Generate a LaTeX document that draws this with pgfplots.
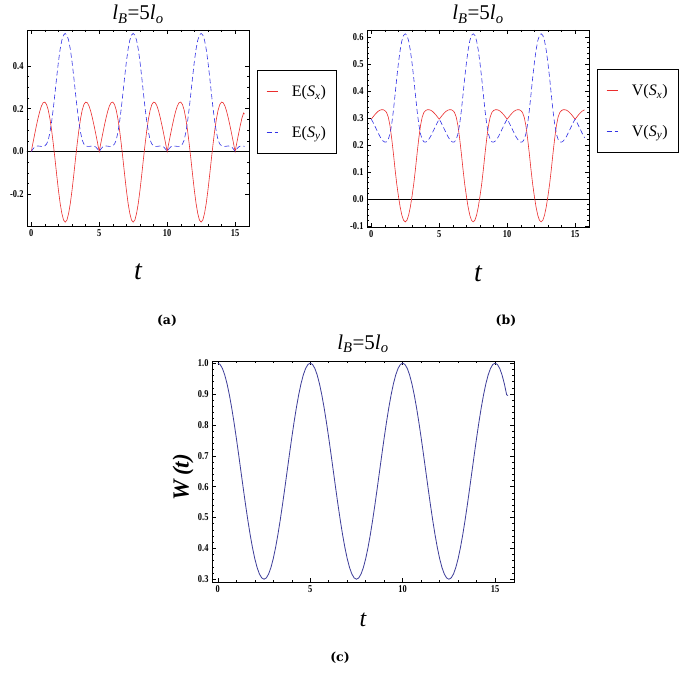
\documentclass[border=0pt]{standalone}
\usepackage{fontspec}
\setmainfont{Liberation Serif}
\newfontfamily\tickfont[FakeStretch=0.8]{Liberation Serif}
\newfontfamily\capfont{DejaVu Serif}
\usepackage{pgfplots}
\usepackage{pgfplotstable}
\pgfplotsset{compat=1.18}

\definecolor{mred}{RGB}{235,45,45}
\definecolor{mblue}{RGB}{50,50,230}
\definecolor{mnavy}{rgb}{0.24,0.24,0.6}

% t, E(Sx), E(Sy), V(Sx), V(Sy), W(t)
\pgfplotstableread{
t Ex Ey Vx Vy W
0 0 0 0.295 0.295 1.0
0.125 0.041 0.012 0.303 0.284 0.9957
0.25 0.081 0.021 0.311 0.271 0.9829
0.375 0.120 0.025 0.318 0.258 0.9619
0.5 0.156 0.026 0.324 0.245 0.9332
0.625 0.188 0.025 0.328 0.232 0.8975
0.75 0.213 0.024 0.330 0.222 0.8557
0.875 0.228 0.024 0.330 0.214 0.8089
1 0.231 0.027 0.327 0.210 0.7582
1.125 0.220 0.035 0.320 0.211 0.7048
1.25 0.194 0.053 0.303 0.220 0.65
1.375 0.153 0.090 0.272 0.240 0.5952
1.5 0.099 0.140 0.225 0.275 0.5418
1.625 0.034 0.203 0.170 0.325 0.4911
1.75 -0.037 0.275 0.110 0.385 0.4443
1.875 -0.111 0.350 0.055 0.447 0.4025
2 -0.181 0.420 0.010 0.503 0.3668
2.125 -0.242 0.478 -0.030 0.550 0.3381
2.25 -0.289 0.520 -0.060 0.585 0.3171
2.375 -0.320 0.544 -0.079 0.605 0.3043
2.5 -0.330 0.552 -0.085 0.611 0.30
2.625 -0.320 0.544 -0.079 0.605 0.3043
2.75 -0.289 0.520 -0.060 0.585 0.3171
2.875 -0.242 0.478 -0.030 0.550 0.3381
3 -0.181 0.420 0.010 0.503 0.3668
3.125 -0.111 0.350 0.055 0.447 0.4025
3.25 -0.037 0.275 0.110 0.385 0.4443
3.375 0.034 0.203 0.170 0.325 0.4911
3.5 0.099 0.140 0.225 0.275 0.5418
3.625 0.153 0.090 0.272 0.240 0.5952
3.75 0.194 0.053 0.303 0.220 0.65
3.875 0.220 0.035 0.320 0.211 0.7048
4 0.231 0.027 0.327 0.210 0.7582
4.125 0.228 0.024 0.330 0.214 0.8089
4.25 0.213 0.024 0.330 0.222 0.8557
4.375 0.188 0.025 0.328 0.232 0.8975
4.5 0.156 0.026 0.324 0.245 0.9332
4.625 0.120 0.025 0.318 0.258 0.9619
4.75 0.081 0.021 0.311 0.271 0.9829
4.875 0.041 0.012 0.303 0.284 0.9957
5 0 0 0.295 0.295 1.0
5.125 0.041 0.012 0.303 0.284 0.9957
5.25 0.081 0.021 0.311 0.271 0.9829
5.375 0.120 0.025 0.318 0.258 0.9619
5.5 0.156 0.026 0.324 0.245 0.9332
5.625 0.188 0.025 0.328 0.232 0.8975
5.75 0.213 0.024 0.330 0.222 0.8557
5.875 0.228 0.024 0.330 0.214 0.8089
6 0.231 0.027 0.327 0.210 0.7582
6.125 0.220 0.035 0.320 0.211 0.7048
6.25 0.194 0.053 0.303 0.220 0.65
6.375 0.153 0.090 0.272 0.240 0.5952
6.5 0.099 0.140 0.225 0.275 0.5418
6.625 0.034 0.203 0.170 0.325 0.4911
6.75 -0.037 0.275 0.110 0.385 0.4443
6.875 -0.111 0.350 0.055 0.447 0.4025
7 -0.181 0.420 0.010 0.503 0.3668
7.125 -0.242 0.478 -0.030 0.550 0.3381
7.25 -0.289 0.520 -0.060 0.585 0.3171
7.375 -0.320 0.544 -0.079 0.605 0.3043
7.5 -0.330 0.552 -0.085 0.611 0.30
7.625 -0.320 0.544 -0.079 0.605 0.3043
7.75 -0.289 0.520 -0.060 0.585 0.3171
7.875 -0.242 0.478 -0.030 0.550 0.3381
8 -0.181 0.420 0.010 0.503 0.3668
8.125 -0.111 0.350 0.055 0.447 0.4025
8.25 -0.037 0.275 0.110 0.385 0.4443
8.375 0.034 0.203 0.170 0.325 0.4911
8.5 0.099 0.140 0.225 0.275 0.5418
8.625 0.153 0.090 0.272 0.240 0.5952
8.75 0.194 0.053 0.303 0.220 0.65
8.875 0.220 0.035 0.320 0.211 0.7048
9 0.231 0.027 0.327 0.210 0.7582
9.125 0.228 0.024 0.330 0.214 0.8089
9.25 0.213 0.024 0.330 0.222 0.8557
9.375 0.188 0.025 0.328 0.232 0.8975
9.5 0.156 0.026 0.324 0.245 0.9332
9.625 0.120 0.025 0.318 0.258 0.9619
9.75 0.081 0.021 0.311 0.271 0.9829
9.875 0.041 0.012 0.303 0.284 0.9957
10 0 0 0.295 0.295 1.0
10.125 0.041 0.012 0.303 0.284 0.9957
10.25 0.081 0.021 0.311 0.271 0.9829
10.375 0.120 0.025 0.318 0.258 0.9619
10.5 0.156 0.026 0.324 0.245 0.9332
10.625 0.188 0.025 0.328 0.232 0.8975
10.75 0.213 0.024 0.330 0.222 0.8557
10.875 0.228 0.024 0.330 0.214 0.8089
11 0.231 0.027 0.327 0.210 0.7582
11.125 0.220 0.035 0.320 0.211 0.7048
11.25 0.194 0.053 0.303 0.220 0.65
11.375 0.153 0.090 0.272 0.240 0.5952
11.5 0.099 0.140 0.225 0.275 0.5418
11.625 0.034 0.203 0.170 0.325 0.4911
11.75 -0.037 0.275 0.110 0.385 0.4443
11.875 -0.111 0.350 0.055 0.447 0.4025
12 -0.181 0.420 0.010 0.503 0.3668
12.125 -0.242 0.478 -0.030 0.550 0.3381
12.25 -0.289 0.520 -0.060 0.585 0.3171
12.375 -0.320 0.544 -0.079 0.605 0.3043
12.5 -0.330 0.552 -0.085 0.611 0.30
12.625 -0.320 0.544 -0.079 0.605 0.3043
12.75 -0.289 0.520 -0.060 0.585 0.3171
12.875 -0.242 0.478 -0.030 0.550 0.3381
13 -0.181 0.420 0.010 0.503 0.3668
13.125 -0.111 0.350 0.055 0.447 0.4025
13.25 -0.037 0.275 0.110 0.385 0.4443
13.375 0.034 0.203 0.170 0.325 0.4911
13.5 0.099 0.140 0.225 0.275 0.5418
13.625 0.153 0.090 0.272 0.240 0.5952
13.75 0.194 0.053 0.303 0.220 0.65
13.875 0.220 0.035 0.320 0.211 0.7048
14 0.231 0.027 0.327 0.210 0.7582
14.125 0.228 0.024 0.330 0.214 0.8089
14.25 0.213 0.024 0.330 0.222 0.8557
14.375 0.188 0.025 0.328 0.232 0.8975
14.5 0.156 0.026 0.324 0.245 0.9332
14.625 0.120 0.025 0.318 0.258 0.9619
14.75 0.081 0.021 0.311 0.271 0.9829
14.875 0.041 0.012 0.303 0.284 0.9957
15 0 0 0.295 0.295 1.0
15.125 0.041 0.012 0.303 0.284 0.9957
15.25 0.081 0.021 0.311 0.271 0.9829
15.375 0.120 0.025 0.318 0.258 0.9619
15.5 0.156 0.026 0.324 0.245 0.9332
15.625 0.180 0.025 0.328 0.232 0.8975
15.7 0.175 0.024 0.329 0.226 0.8950
}\data

\pgfplotsset{
  mframe/.style={
    scale only axis,
    xmin=-0.314, xmax=16.022,
    xtick={0,5,10,15}, minor x tick num=4,
    tick align=inside,
    major tick length=4pt, minor tick length=2pt,
    axis line style={line width=0.6pt},
    every tick/.style={black, line width=0.5pt},
    tick label style={font=\tickfont\bfseries\fontsize{10.5}{10.5}\selectfont},
    /pgf/number format/assume math mode=true,
    yticklabel style={/pgf/number format/.cd, fixed, fixed zerofill, precision=1},
    title style={font=\fontsize{21}{21}\selectfont, at={(0.5,1)}, anchor=base, yshift=4pt},
    xlabel={\itshape t},
    xlabel style={font=\fontsize{28}{28}\selectfont, at={(axis description cs:0.5,-0.235)}, anchor=center},
    legend cell align=left,
    legend image code/.code={\draw[#1] (0pt,0pt) -- (11pt,0pt);},
    legend style={draw=black, line width=0.7pt, fill=white,
      font=\fontsize{16}{16}\selectfont, inner xsep=9pt, inner ysep=13pt,
      row sep=24pt, anchor=north west, nodes={inner sep=2pt},
      /tikz/every odd column/.append style={column sep=12pt}},
  },
}

\newcommand{\lbtitle}{{\itshape l}\textsubscript{\itshape B}=5{\itshape l}\textsubscript{\itshape o}}

\begin{document}
\begin{tikzpicture}
\fill[white] (0pt,0pt) rectangle (685pt,673pt);
\useasboundingbox (0pt,0pt) rectangle (685pt,673pt);

% (a)
\begin{axis}[mframe, at={(27pt,447pt)}, anchor=south west,
  width=222pt, height=196pt,
  ymin=-0.348, ymax=0.568, ytick={-0.2,0,0.2,0.4}, minor y tick num=3,
  title={\lbtitle},
  legend style={at={(1.036,0.796)}}]
\addplot[black, line width=0.6pt, forget plot] coordinates {(-1,0) (17,0)};
\addplot[mred, line width=0.6pt] table[x=t, y=Ex] {\data};
\addlegendentry{E(\textit{S}\textsubscript{\textit{x}})}
\addplot[mblue, line width=0.6pt, dash pattern=on 5pt off 3pt] table[x=t, y=Ey] {\data};
\addlegendentry{E(\textit{S}\textsubscript{\textit{y}})}
\end{axis}

% (b)
\begin{axis}[mframe, at={(367pt,446pt)}, anchor=south west,
  width=222pt, height=197pt,
  ymin=-0.104, ymax=0.625, ytick={-0.1,0,0.1,0.2,0.3,0.4,0.5,0.6}, minor y tick num=4,
  title={\lbtitle},
  legend style={at={(1.036,0.802)}}]
\addplot[black, line width=0.6pt, forget plot] coordinates {(-1,0) (17,0)};
\addplot[mred, line width=0.6pt] table[x=t, y=Vx] {\data};
\addlegendentry{V(\textit{S}\textsubscript{\textit{x}})}
\addplot[mblue, line width=0.6pt, dash pattern=on 5pt off 3pt] table[x=t, y=Vy] {\data};
\addlegendentry{V(\textit{S}\textsubscript{\textit{y}})}
\end{axis}

% (c)
\begin{axis}[mframe, at={(212pt,91pt)}, anchor=south west,
  width=302pt, height=221pt,
  ymin=0.291, ymax=1.007, ytick={0.3,0.4,0.5,0.6,0.7,0.8,0.9,1.0}, minor y tick num=4,
  title={\lbtitle},
  title style={yshift=2pt},
  xlabel style={font=\fontsize{24}{24}\selectfont, at={(axis description cs:0.5,-0.172)}},
  ylabel={\bfseries\itshape W\,(t)},
  ylabel style={font=\fontsize{23}{23}\selectfont, at={(axis description cs:-0.096,0.475)}, anchor=center}]
\addplot[mnavy, line width=0.8pt] table[x=t, y=W] {\data};
\end{axis}

\node[font=\capfont\bfseries\fontsize{12.5}{12.5}\selectfont] at (167pt,352pt) {(a)};
\node[font=\capfont\bfseries\fontsize{12.5}{12.5}\selectfont] at (506pt,352pt) {(b)};
\node[font=\capfont\bfseries\fontsize{12.5}{12.5}\selectfont] at (340pt,15pt) {(c)};
\end{tikzpicture}
\end{document}
